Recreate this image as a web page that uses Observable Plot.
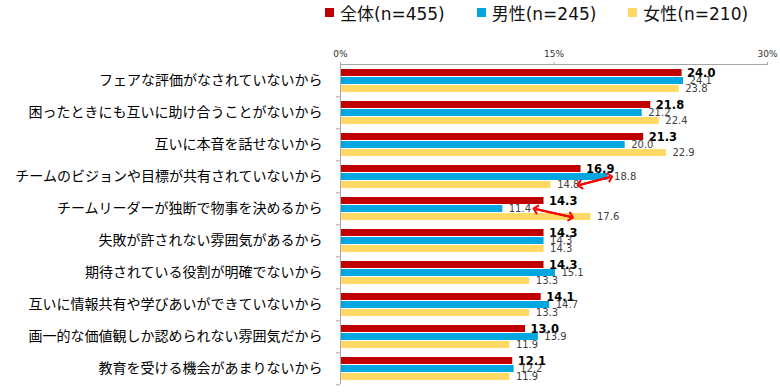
<!DOCTYPE html>
<html>
<head>
<meta charset="utf-8">
<script src="https://cdn.jsdelivr.net/npm/d3@7"></script>
<script src="https://cdn.jsdelivr.net/npm/@observablehq/plot@0.6"></script>
<style>
  html, body { margin: 0; padding: 0; background: #fff; }
  #legend { position: relative; height: 36px; padding-left: 325px; display: flex;
            font-family: "DejaVu Sans", "Noto Sans CJK JP", sans-serif; font-size: 17px; color: #111; }
  .item { width: 166.5px; display: flex; align-items: center; height: 24px; }
  .sw { width: 9px; height: 9px; margin-right: 6px; flex: none; }
  #chart svg { display: block; }
</style>
</head>
<body>
<div id="legend"></div>
<div id="chart"></div>
<script>
const categories = [
  "フェアな評価がなされていないから",
  "困ったときにも互いに助け合うことがないから",
  "互いに本音を話せないから",
  "チームのビジョンや目標が共有されていないから",
  "チームリーダーが独断で物事を決めるから",
  "失敗が許されない雰囲気があるから",
  "期待されている役割が明確でないから",
  "互いに情報共有や学びあいができていないから",
  "画一的な価値観しか認められない雰囲気だから",
  "教育を受ける機会があまりないから"
];
const series = ["全体", "男性", "女性"];
const legendLabels = ["全体(n=455)", "男性(n=245)", "女性(n=210)"];
const colors = ["#C00000", "#00A6E0", "#FFD966"];
const totalValues  = [24.0, 21.8, 21.3, 16.9, 14.3, 14.3, 14.3, 14.1, 13.0, 12.1];
const maleValues   = [24.1, 21.2, 20.0, 18.8, 11.4, 14.3, 15.1, 14.7, 13.9, 12.2];
const femaleValues = [23.8, 22.4, 22.9, 14.8, 17.6, 14.3, 13.3, 13.3, 11.9, 11.9];
const xTicks = [0, 15, 30];
// annotation arrows (values in %)
const arrowCats = [categories[3], categories[4]];
const arrowFrom = ["女性", "男性"];
const arrowTo   = ["男性", "女性"];
const arrowX1   = [16.8, 13.7];
const arrowX2   = [18.95, 16.2];

const valuesBySeries = [totalValues, maleValues, femaleValues];
const rows = categories.flatMap((c, i) => series.map((s, j) => ({cat: c, series: s, value: valuesBySeries[j][i]})));
const arrows = arrowCats.map((c, i) => ({cat: c, from: arrowFrom[i], to: arrowTo[i], x1: arrowX1[i], x2: arrowX2[i]}));

// legend
const legend = document.getElementById("legend");
legendLabels.forEach((l, i) => {
  const it = document.createElement("div");
  it.className = "item";
  const sw = document.createElement("span");
  sw.className = "sw";
  sw.style.background = colors[i];
  const tx = document.createElement("span");
  tx.textContent = l;
  it.appendChild(sw); it.appendChild(tx);
  legend.appendChild(it);
});

const H = 356, MT = 24, MB = 5;
const bw = (H - MT - MB) / categories.length;
const axisColor = "#a6a6a6";
const arrowStyle = {stroke: "#FF0000", strokeWidth: 2, markerEnd: "arrow"};

const chart = Plot.plot({
  width: 780,
  height: H,
  marginTop: MT,
  marginBottom: MB,
  marginLeft: 340,
  marginRight: 13,
  style: {fontFamily: "'DejaVu Sans', 'Noto Sans CJK JP', sans-serif", background: "#fff"},
  x: {domain: [0, 30], axis: null, label: null},
  y: {domain: series, paddingInner: 0.111, paddingOuter: 0.372, align: 0.6, axis: null, label: null},
  fy: {domain: categories, padding: 0, axis: null, label: null},
  color: {domain: series, range: colors},
  marks: [
    Plot.barX(rows, {fy: "cat", y: "series", x: "value", fill: "series"}),
    Plot.ruleX([0], {stroke: axisColor}),
    Plot.frame({anchor: "top", facetAnchor: "top", stroke: axisColor}),
    Plot.axisX({anchor: "top", ticks: xTicks, tickFormat: d => d + "%", tickSize: 3, tickPadding: 5,
                fontSize: 9, stroke: axisColor, fill: "#333", label: null}),
    Plot.axisFy({anchor: "left", tickSize: 4, tickFormat: () => "", dy: bw / 2, stroke: axisColor, label: null}),
    Plot.axisFy({anchor: "left", tickSize: 0, tickPadding: 18, fontSize: 14, fill: "#000",
                 fontFamily: "'Noto Sans CJK JP', sans-serif", label: null}),
    Plot.text(rows.filter(d => d.series === series[0]), {
      fy: "cat", y: "series", x: "value", text: d => d.value.toFixed(1),
      dx: 5, textAnchor: "start", fontWeight: "bold", fontSize: 11.5, fill: "#000"
    }),
    Plot.text(rows.filter(d => d.series !== series[0]), {
      fy: "cat", y: "series", x: "value", text: d => d.value.toFixed(1),
      dx: 6, textAnchor: "start", fontSize: 10, fill: "#404040"
    }),
    Plot.link(arrows, {fy: "cat", x1: "x1", x2: "x2", y1: "from", y2: "to", ...arrowStyle}),
    Plot.link(arrows, {fy: "cat", x1: "x2", x2: "x1", y1: "to", y2: "from", ...arrowStyle})
  ]
});
document.getElementById("chart").appendChild(chart);
</script>
</body>
</html>
